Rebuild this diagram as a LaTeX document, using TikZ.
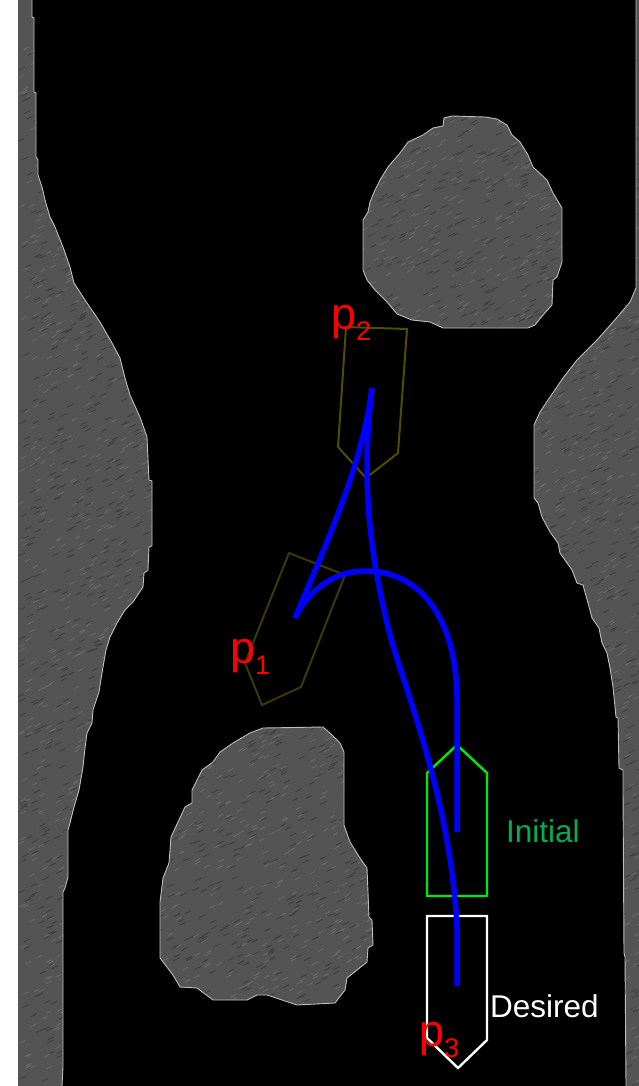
\documentclass[tikz,border=0pt]{standalone}
\usepackage{fontspec}
\setmainfont{Liberation Sans}
\definecolor{RockGray}{RGB}{84,84,84}
\definecolor{RockEdge}{RGB}{190,190,190}
\definecolor{RockLight}{RGB}{108,108,108}
\definecolor{RockDark}{RGB}{62,62,62}
\definecolor{PathBlue}{RGB}{0,0,255}
\definecolor{PoseOne}{RGB}{62,56,8}
\definecolor{PoseTwo}{RGB}{82,76,0}
\definecolor{InitGreen}{RGB}{0,235,0}
\definecolor{InitText}{RGB}{0,176,80}
\newcommand{\plabel}[1]{\fontsize{45}{45}\selectfont p\raisebox{-11.5pt}{\fontsize{27}{27}\selectfont #1}}
\newcommand{\leftwall}{(32,0) -- (32,17) -- (34,18) -- (34,92) -- (36,93) -- (36,157) -- (38,160) -- (38,175) -- (42,187) -- (45,200) -- (50,217) -- (55,227) -- (63,247) -- (70,267) -- (74,283) -- (85,300) -- (100,322) -- (112,343) -- (120,358) -- (125,378) -- (130,395) -- (140,417) -- (147,437) -- (149,480) -- (152,481) -- (152,546) -- (149,547) -- (148,570) -- (144,573) -- (143,587) -- (133,602) -- (125,610) -- (117,623) -- (110,637) -- (106,650) -- (103,667) -- (102,673) -- (99,692) -- (93,710) -- (92,723) -- (87,733) -- (85,748) -- (83,767) -- (79,790) -- (74,807) -- (70,823) -- (68,830) -- (68,877) -- (65,888) -- (63,892) -- (63,1067) -- (62,1086)}
\newcommand{\rightwall}{(636,0) -- (636,288) -- (630,302) -- (613,322) -- (597,340) -- (577,360) -- (563,378) -- (548,400) -- (540,412) -- (534,425) -- (534,498) -- (538,503) -- (542,517) -- (550,532) -- (558,543) -- (560,553) -- (572,570) -- (577,583) -- (583,585) -- (588,603) -- (592,618) -- (599,628) -- (602,643) -- (607,653) -- (610,668) -- (613,687) -- (616,717) -- (618,718) -- (619,768) -- (623,770) -- (623,790) -- (624,953) -- (625,957) -- (626,1086)}
\newcommand{\upperrock}{(452,116) -- (485,117) -- (497,119) -- (507,125) -- (512,135) -- (520,142) -- (528,155) -- (533,167) -- (547,180) -- (553,193) -- (562,208) -- (562,262) -- (557,277) -- (553,280) -- (552,305) -- (543,315) -- (535,325) -- (528,328) -- (443,328) -- (430,322) -- (412,320) -- (397,314) -- (387,302) -- (375,290) -- (367,280) -- (363,270) -- (363,220) -- (368,212) -- (370,202) -- (375,190) -- (380,180) -- (388,167) -- (400,153) -- (408,142) -- (423,135) -- (433,128) -- (443,126) -- (444,118) -- cycle}
\newcommand{\lowerrock}{(263,728) -- (323,727) -- (332,735) -- (340,743) -- (344,752) -- (344,825) -- (350,842) -- (360,858) -- (367,868) -- (369,917) -- (372,920) -- (373,945) -- (368,948) -- (367,962) -- (347,978) -- (345,990) -- (335,1003) -- (297,1005) -- (267,995) -- (257,995) -- (247,1000) -- (213,1000) -- (197,988) -- (180,987) -- (173,975) -- (160,958) -- (160,902) -- (163,878) -- (169,863) -- (171,837) -- (178,822) -- (185,807) -- (192,803) -- (192,790) -- (202,770) -- (213,762) -- (220,752) -- (233,743) -- (250,733) -- cycle}
\tikzset{
  rockedge/.style={draw=RockEdge, line width=0.9pt, line join=round},
  route/.style={draw=PathBlue, line width=5.5pt, line join=round},
  pose/.style={line width=2pt, line join=miter},
  waylabel/.style={inner sep=0pt, anchor=base west, text=red},
  caption/.style={inner sep=0pt, anchor=base west, font=\fontsize{31.5}{31.5}\selectfont}
}

\begin{document}
\begin{tikzpicture}[x=1pt,y=-1pt]
  \useasboundingbox (0,0) rectangle (639,1086);
  \fill[white] (0,0) rectangle (18,1086);
  \fill[black] (18,0) rectangle (639,1086);

  % rock areas with their grain
  \begin{scope}
    \clip (18,0) -- \leftwall -- (18,1086) -- cycle
          (639,0) -- \rightwall -- (639,1086) -- cycle
          \upperrock \lowerrock;
    \fill[RockGray] (18,0) rectangle (639,1086);
    \pgfmathsetseed{7}
    \foreach \i in {1,...,3500} {
      \pgfmathsetmacro{\gx}{18+621*rnd}
      \pgfmathsetmacro{\gy}{1086*rnd}
      \draw[RockLight, line width=0.8pt] (\gx,\gy) -- ++(5,-3);
      \pgfmathsetmacro{\gx}{18+621*rnd}
      \pgfmathsetmacro{\gy}{1086*rnd}
      \draw[RockDark, line width=0.9pt] (\gx,\gy) -- ++(6,-3);
    }
  \end{scope}
  \draw[rockedge] \leftwall;
  \draw[rockedge] \rightwall;
  \draw[rockedge] \upperrock;
  \draw[rockedge] \lowerrock;

  % robot poses
  \draw[pose, PoseOne] (289,553) -- (345,575) -- (301,687) -- (262,705) -- (245,663) -- cycle;
  \draw[pose, PoseTwo] (346,327) -- (407,329) -- (398,453) -- (366,478) -- (338,447) -- cycle;
  \draw[pose, InitGreen, line width=2.4pt] (427,773) -- (457,745) -- (487,773) -- (487,896) -- (427,896) -- cycle;
  \draw[pose, white, line width=2.4pt] (427,916) -- (487,916) -- (487,1040) -- (458,1068) -- (427,1038) -- cycle;

  % planned route
  \draw[route] (457,832) -- (457,700) .. controls (457,625) and (425,571) .. (365,571) .. controls (335,571) and (308,590) .. (295,618);
  \draw[route] (295,618) .. controls (320,557) and (362,470) .. (372,388);
  \draw[route] (372,388) .. controls (362,470) and (367,540) .. (387,623) .. controls (400,680) and (450,790) .. (457,927) -- (457,986);

  \node[waylabel] (ptwo) at (331,329) {\plabel{2}};
  \node[waylabel] (pone) at (230,663) {\plabel{1}};
  \node[waylabel] (pthree) at (419,1046) {\plabel{3}};
  \node[caption, text=InitText] (initial) at (506,842) {Initial};
  \node[caption, text=white] (desired) at (490,1017) {Desired};
\end{tikzpicture}
\end{document}
